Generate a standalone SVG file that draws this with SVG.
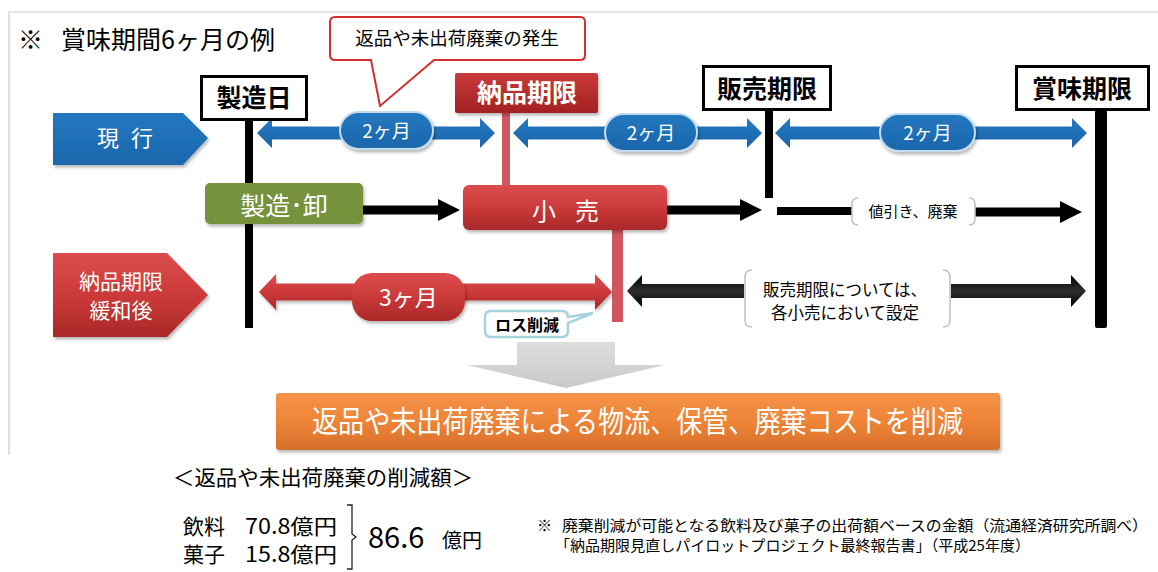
<svg xmlns="http://www.w3.org/2000/svg" width="1158" height="572" viewBox="0 0 1158 572">
<defs>
<linearGradient id="gRed" x1="0" y1="0" x2="0" y2="1"><stop offset="0" stop-color="#dd4d4d"/><stop offset="0.55" stop-color="#c93838"/><stop offset="1" stop-color="#a82828"/></linearGradient>
<linearGradient id="gRedBox" x1="0" y1="0" x2="0" y2="1"><stop offset="0" stop-color="#c93a3a"/><stop offset="1" stop-color="#a32222"/></linearGradient>
<linearGradient id="gOrange" x1="0" y1="0" x2="0" y2="1"><stop offset="0" stop-color="#f59249"/><stop offset="0.5" stop-color="#ee8437"/><stop offset="1" stop-color="#d66f2b"/></linearGradient>
<linearGradient id="gBlack" x1="0" y1="0" x2="0" y2="1"><stop offset="0" stop-color="#000"/><stop offset="0.5" stop-color="#2e2e2e"/><stop offset="1" stop-color="#000"/></linearGradient>
<linearGradient id="gGrey" x1="0" y1="0" x2="0" y2="1"><stop offset="0" stop-color="#dedede"/><stop offset="1" stop-color="#c9c9c9"/></linearGradient>
<linearGradient id="gBlue" x1="0" y1="0" x2="0" y2="1"><stop offset="0" stop-color="#2478c0"/><stop offset="1" stop-color="#1a66ab"/></linearGradient>
<filter id="sh" x="-10%" y="-20%" width="125%" height="150%"><feDropShadow dx="1.5" dy="2.5" stdDeviation="1.5" flood-color="#000" flood-opacity="0.28"/></filter>
</defs>
<style>
text{font-family:"Noto Sans CJK JP","Noto Sans",sans-serif}
.w{fill:#fff}
.k{fill:#000}
.b{font-weight:bold}
.mid{text-anchor:middle}
.blue{fill:url(#gBlue)}
.red{fill:url(#gRed)}
.pink{fill:#d0575f}
.bar{fill:#000}
.brk{fill:none;stroke:#c2c2c2;stroke-width:1.6}
.lbl{fill:#fff;stroke:#000;stroke-width:3}
.pill{fill:url(#gBlue);stroke:#c4dbf0;stroke-width:2}
</style>

<rect width="1158" height="572" fill="#fff"/>
<path d="M9,455 V12 H1158" fill="none" stroke="#c9c9c9" stroke-width="1.2"/>

<g id="title">
<text x="18" y="49" font-size="25" class="k">※</text>
<text x="61" y="49" font-size="25" class="k">賞味期間6ヶ月の例</text>
</g>

<g id="callout-top">
<path d="M335,17 H580 Q585,17 585,22 V55 Q585,60 580,60 H434 L380,106 L371,60 H335 Q330,60 330,55 V22 Q330,17 335,17 Z" fill="#fff" stroke="#d42f2f" stroke-width="2"/>
<text x="457" y="45" font-size="18.5" class="k mid">返品や未出荷廃棄の発生</text>
</g>

<g id="connectors">
<rect x="245" y="121" width="8" height="207" class="bar"/>
<rect x="765" y="110" width="8" height="88" class="bar"/>
<rect x="1095" y="110" width="12" height="218" rx="2" class="bar"/>
<rect x="502" y="113" width="8" height="72" class="pink"/>
<rect x="612" y="230" width="11" height="92" class="pink"/>
<polygon points="257,133 272,118 272,126.5 480,126.5 480,118 495,133 480,148 480,139.5 272,139.5 272,148" class="blue"/>
<polygon points="513,133 528,118 528,126.5 747,126.5 747,118 762,133 747,148 747,139.5 528,139.5 528,148" class="blue"/>
<polygon points="775,133 790,118 790,126.5 1072,126.5 1072,118 1087,133 1072,148 1072,139.5 790,139.5 790,148" class="blue"/>
<polygon points="363,205.5 438,205.5 438,199 460,210 438,221 438,214.5 363,214.5" class="bar"/>
<polygon points="667,205.5 740,205.5 740,199 762,210 740,221 740,214.5 667,214.5" class="bar"/>
<rect x="777" y="207" width="75" height="8" class="bar"/>
<polygon points="975,207.5 1060,207.5 1060,201 1082,212 1060,223 1060,216.5 975,216.5" class="bar"/>
<polygon points="259,292 276,274 276,283.5 595,283.5 595,274 612,292 595,310 595,300.5 276,300.5 276,310" class="red" filter="url(#sh)"/>
<polygon points="627,291 642,275 642,284 1071,284 1071,275 1086,291 1071,307 1071,298 642,298 642,307" fill="url(#gBlack)"/>
<polygon points="517,342 615,342 615,365 665,365 566,388 467,365 517,365" fill="url(#gGrey)"/>
</g>

<g id="node-seizoubi">
<rect x="201.5" y="76.5" width="105" height="43" class="lbl"/>
<text x="254" y="107" font-size="25" class="k b mid">製造日</text>
</g>

<g id="node-hanbai">
<rect x="703.5" y="66.5" width="127" height="43" class="lbl"/>
<text x="767" y="98" font-size="25" class="k b mid">販売期限</text>
</g>

<g id="node-shoumi">
<rect x="1016.5" y="66.5" width="132" height="43" class="lbl"/>
<text x="1082" y="98" font-size="25" class="k b mid">賞味期限</text>
</g>

<g id="node-nouhin">
<rect x="455" y="73" width="143" height="40" rx="2" fill="url(#gRedBox)" filter="url(#sh)"/>
<text x="527" y="102" font-size="25" class="w b mid">納品期限</text>
</g>

<g id="node-genkou">
<polygon points="53,113 183,113 208,138 183,165 53,165" class="blue" filter="url(#sh)"/>
<text x="108" y="146" font-size="22" class="w mid">現</text>
<text x="142" y="146" font-size="22" class="w mid">行</text>
</g>

<g id="node-kanwago">
<polygon points="53,253 167,253 208,295 167,337 53,337" class="red" filter="url(#sh)"/>
<text x="121" y="289" font-size="21" class="w mid">納品期限</text>
<text x="121" y="318" font-size="21" class="w mid">緩和後</text>
</g>

<g id="pills">
<rect x="340" y="112" width="93" height="37" rx="18.5" class="pill" filter="url(#sh)"/>
<text x="386.5" y="138" font-size="19" class="w mid">2ヶ月</text>
<rect x="605" y="114" width="92" height="37" rx="18.5" class="pill" filter="url(#sh)"/>
<text x="651" y="140" font-size="19" class="w mid">2ヶ月</text>
<rect x="880" y="114" width="95" height="37" rx="18.5" class="pill" filter="url(#sh)"/>
<text x="927.5" y="140" font-size="19" class="w mid">2ヶ月</text>
<rect x="352" y="273" width="113" height="48" rx="20" class="red" filter="url(#sh)"/>
<text x="408.5" y="306" font-size="23" class="w mid">3ヶ月</text>
</g>

<g id="node-seizou-oroshi">
<rect x="205" y="183" width="158" height="41" rx="5" fill="#76923c" filter="url(#sh)"/>
<text x="284" y="215" font-size="25" class="w mid">製造･卸</text>
</g>

<g id="node-kouri">
<rect x="463" y="185" width="204" height="45" rx="6" class="red" filter="url(#sh)"/>
<text x="544" y="220" font-size="24" class="w mid">小</text>
<text x="587" y="220" font-size="24" class="w mid">売</text>
</g>

<g id="label-nebiki">
<path d="M858,198 Q852,198 852,204 V219 Q852,225 858,225" class="brk"/>
<path d="M969,198 Q975,198 975,204 V219 Q975,225 969,225" class="brk"/>
<text x="913" y="217" font-size="15" class="k mid">値引き、廃棄</text>
</g>

<g id="label-hanbai-settei">
<rect x="744" y="270" width="207" height="58" fill="#fff"/>
<path d="M752,270 Q745,270 745,277 V320 Q745,327 752,327" class="brk"/>
<path d="M943,270 Q950,270 950,277 V320 Q950,327 943,327" class="brk"/>
<text x="845" y="296" font-size="16.5" class="k mid">販売期限については、</text>
<text x="845" y="319" font-size="16.5" class="k mid">各小売において設定</text>
</g>

<g id="callout-loss">
<path d="M491,311 H562 Q568,311 568,317 L593,313 L568,323 V331 Q568,337 562,337 H491 Q485,337 485,331 V317 Q485,311 491,311 Z" fill="#fff" stroke="#a6d3db" stroke-width="2.5"/>
<text x="527" y="331" font-size="16" class="k b mid">ロス削減</text>
</g>

<g id="node-result">
<rect x="276" y="393" width="724" height="57" rx="3" fill="url(#gOrange)" filter="url(#sh)"/>
<text x="312" y="432" font-size="30" class="w" textLength="651" lengthAdjust="spacingAndGlyphs">返品や未出荷廃棄による物流、保管、廃棄コストを削減</text>
</g>

<g id="amounts">
<text x="173" y="485" font-size="21" class="k" textLength="300" lengthAdjust="spacingAndGlyphs">＜返品や未出荷廃棄の削減額＞</text>
<text x="183" y="534" font-size="21" class="k">飲料</text>
<text x="245" y="534" font-size="21" class="k" textLength="92" lengthAdjust="spacingAndGlyphs">70.8億円</text>
<text x="183" y="562" font-size="21" class="k">菓子</text>
<text x="245" y="562" font-size="21" class="k" textLength="92" lengthAdjust="spacingAndGlyphs">15.8億円</text>
<path d="M347,505 H352 V534 L356,537 L352,540 V569 H347" fill="none" stroke="#222" stroke-width="1.3"/>
<text x="368" y="548" font-size="29" class="k">86.6</text>
<text x="442" y="548" font-size="20" class="k">億円</text>
</g>

<g id="footnote">
<text x="537" y="531" font-size="15" class="k">※</text>
<text x="562" y="531" font-size="15" class="k" textLength="586" lengthAdjust="spacingAndGlyphs">廃棄削減が可能となる飲料及び菓子の出荷額ベースの金額（流通経済研究所調べ）</text>
<text x="555" y="551" font-size="15" class="k" textLength="475" lengthAdjust="spacingAndGlyphs">「納品期限見直しパイロットプロジェクト最終報告書」（平成25年度）</text>
</g>
</svg>
